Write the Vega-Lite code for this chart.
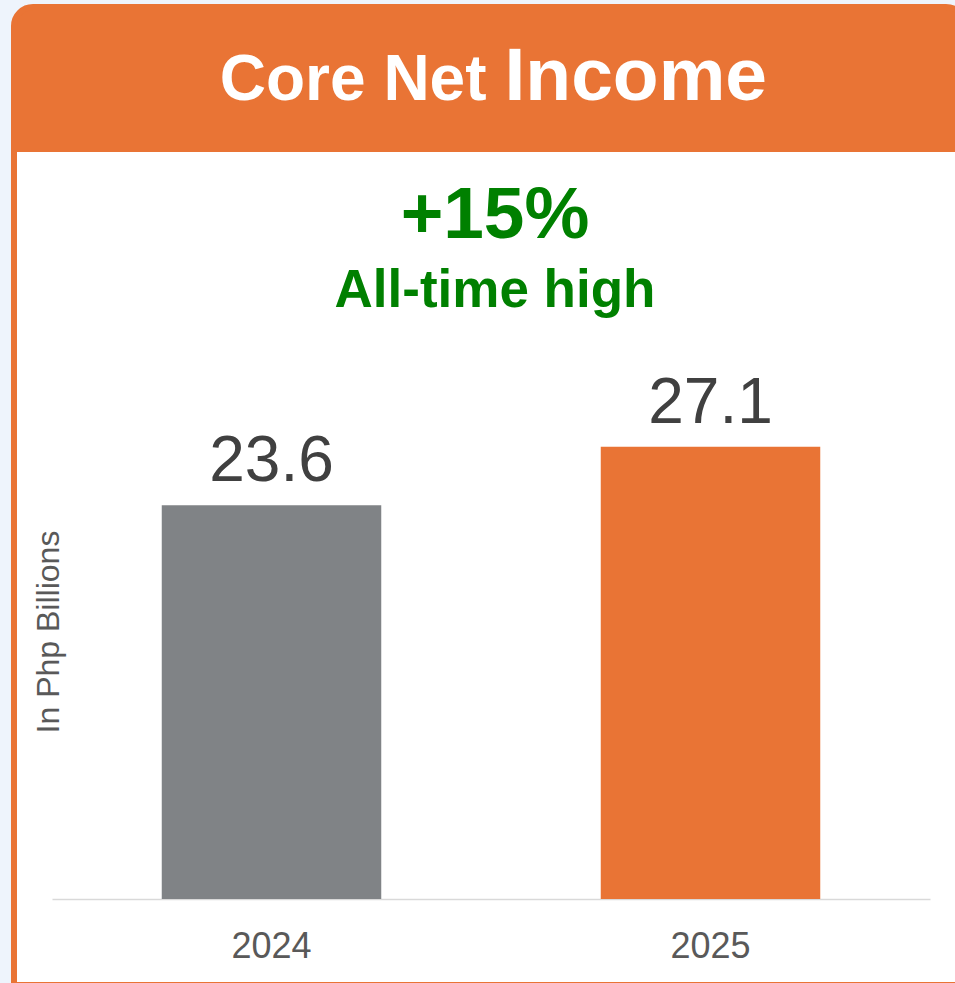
{
  "$schema": "https://vega.github.io/schema/vega-lite/v6.json",
  "background": "#EEF4FC",
  "padding": {"left": 11, "top": 4, "right": -13, "bottom": -5},
  "spacing": 0,
  "config": {
    "font": "Liberation Sans",
    "view": {"stroke": null}
  },
  "vconcat": [
    {
      "width": 951,
      "height": 136,
      "data": {"values": [{"part1": "Core Net", "part2": "Income"}]},
      "layer": [
        {
          "mark": {"type": "rect", "color": "#E97435", "stroke": "#E97435", "strokeWidth": 6, "cornerRadiusTopLeft": 19, "cornerRadiusTopRight": 19}
        },
        {
          "mark": {"type": "text", "align": "right", "baseline": "alphabetic", "fontSize": 64, "fontWeight": "bold", "color": "#FFFFFF", "dx": -3, "dy": 25},
          "encoding": {"text": {"field": "part1"}}
        },
        {
          "mark": {"type": "text", "align": "left", "baseline": "alphabetic", "fontSize": 75, "fontWeight": "bold", "color": "#FFFFFF", "dx": 15, "dy": 25},
          "encoding": {"text": {"field": "part2"}}
        }
      ]
    },
    {
      "width": 944,
      "height": 836,
      "view": {"fill": "#FFFFFF", "stroke": "#E97435", "strokeWidth": 6},
      "title": {
        "text": "+15%",
        "subtitle": "All-time high",
        "orient": "top",
        "anchor": "middle",
        "frame": "group",
        "font": "Liberation Sans",
        "subtitleFont": "Liberation Sans",
        "fontSize": 73,
        "subtitleFontSize": 53,
        "fontWeight": "bold",
        "subtitleFontWeight": "bold",
        "color": "#008000",
        "subtitleColor": "#008000",
        "subtitlePadding": 12,
        "offset": -169,
        "dx": 9
      },
      "data": {"values": [
        {"year": "2024", "value": 23.6},
        {"year": "2025", "value": 27.1}
      ]},
      "encoding": {
        "x": {
          "field": "year",
          "type": "nominal",
          "sort": null,
          "scale": {"range": [38, 916], "paddingInner": 0.5, "paddingOuter": 0.25},
          "axis": {
            "title": null,
            "orient": "bottom",
            "offset": -86,
            "domainColor": "#D9D9D9",
            "domainWidth": 1.5,
            "ticks": false,
            "tickSize": 0,
            "labelFontSize": 36,
            "labelColor": "#595959",
            "labelBaseline": "alphabetic",
            "labelPadding": 58,
            "labelAngle": 0
          }
        },
        "y": {
          "field": "value",
          "type": "quantitative",
          "scale": {"domain": [0, 30], "range": [750, 249.45], "nice": false, "zero": true},
          "axis": {
            "title": "In Php Billions",
            "titleFontSize": 32,
            "titleFontWeight": "normal",
            "titleColor": "#595959",
            "titleBaseline": "alphabetic",
            "titleX": 44,
            "titleY": 482.5,
            "labels": false,
            "ticks": false,
            "domain": false,
            "grid": false
          }
        }
      },
      "layer": [
        {
          "mark": {"type": "bar"},
          "encoding": {
            "color": {
              "field": "year",
              "type": "nominal",
              "scale": {"domain": ["2024", "2025"], "range": ["#808386", "#E97435"]},
              "legend": null
            }
          }
        },
        {
          "mark": {"type": "text", "baseline": "alphabetic", "dy": -24, "fontSize": 64, "color": "#404040"},
          "encoding": {"text": {"field": "value", "type": "quantitative", "format": ".1f"}}
        }
      ]
    }
  ]
}
